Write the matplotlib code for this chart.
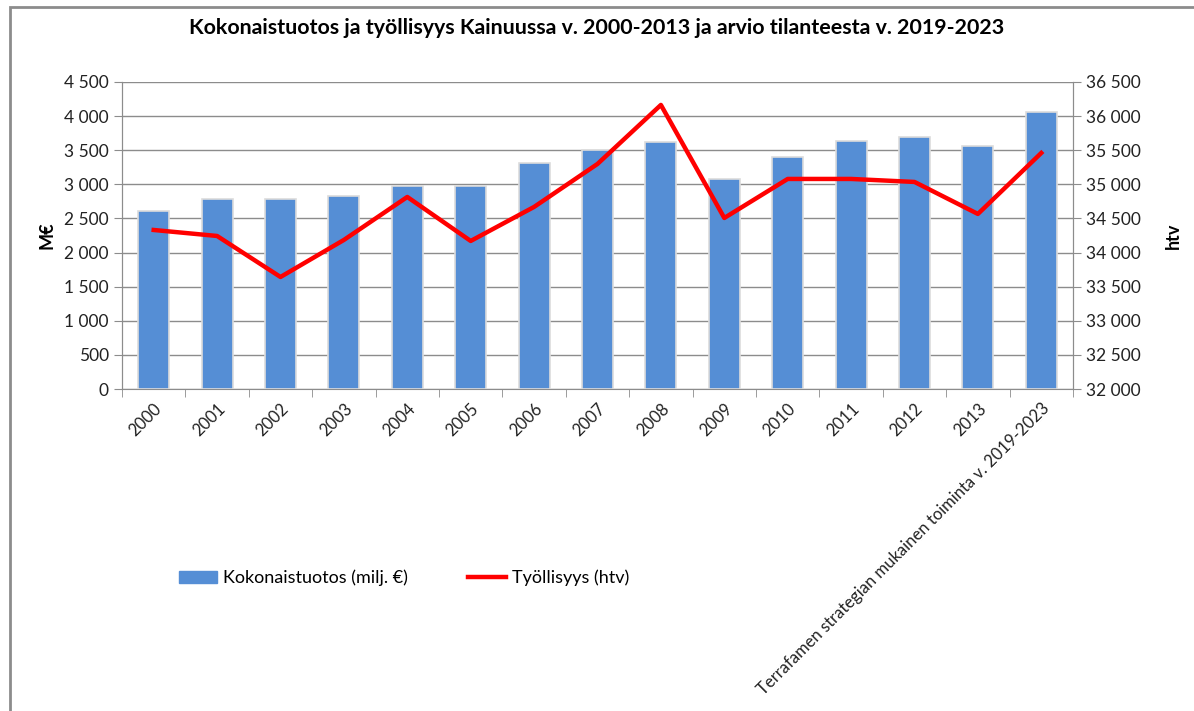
import numpy as np
import matplotlib.pyplot as plt
from matplotlib.lines import Line2D
from matplotlib.patches import Patch, Rectangle

plt.rcParams['font.family'] = ['Lato', 'DejaVu Sans']

categories = ['2000', '2001', '2002', '2003', '2004', '2005', '2006', '2007',
              '2008', '2009', '2010', '2011', '2012', '2013',
              'Terrafamen strategian mukainen toiminta v. 2019-2023']
tuotos = [2610, 2786, 2786, 2830, 2977, 2977, 3314, 3504,
          3622, 3079, 3402, 3636, 3695, 3563, 4062]
tyollisyys = [34331, 34243, 33642, 34185, 34815, 34170, 34669, 35299,
              36164, 34507, 35079, 35079, 35035, 34566, 35460]
left_ticks = [0, 500, 1000, 1500, 2000, 2500, 3000, 3500, 4000, 4500]
right_ticks = [32000, 32500, 33000, 33500, 34000, 34500, 35000, 35500, 36000, 36500]


def fmt(v):
    return f'{v:,}'.replace(',', ' ')


fig = plt.figure(figsize=(11.94, 7.11), dpi=100)
fig.patches.append(Rectangle((10 / 1194, -0.01), 1.2, 1 - 7 / 711 + 0.01,
                             transform=fig.transFigure, fill=False,
                             edgecolor='#8c8c8c', linewidth=2))
ax = fig.add_axes([122 / 1194, 1 - 389 / 711, (1073 - 122) / 1194, (389 - 82) / 711])
ax2 = ax.twinx()

x = np.arange(len(categories))
ax.bar(x, tuotos, width=0.49, color='#558ed5', edgecolor='#dcdcdc', linewidth=1.2, zorder=3)
ax.set_xlim(-0.5, len(categories) - 0.5)
ax.set_ylim(0, 4500)
ax.set_yticks(left_ticks)
ax.set_yticklabels([fmt(v) for v in left_ticks], fontsize=12.5, color='#222222')
ax.grid(axis='y', color='#8c8c8c', linewidth=1, zorder=0)
ax.set_axisbelow(True)

ax.set_xticks(x)
ax.set_xticklabels(categories, rotation=45, ha='right', rotation_mode='anchor',
                   fontsize=12, color='#222222')
ax.set_xticks(np.arange(-0.5, len(categories), 1), minor=True)
ax.tick_params(axis='x', which='major', length=0, pad=8)
ax.tick_params(axis='x', which='minor', length=6, color='#8c8c8c', direction='out')
ax.tick_params(axis='y', length=6, color='#8c8c8c', direction='out')

ax2.plot(x, tyollisyys, color='#ff0000', linewidth=3.2, zorder=4)
ax2.set_ylim(32000, 36500)
ax2.set_yticks(right_ticks)
ax2.set_yticklabels([fmt(v) for v in right_ticks], fontsize=12.5, color='#222222')
ax2.tick_params(axis='y', length=6, color='#8c8c8c', direction='out')

for a in (ax, ax2):
    a.spines['top'].set_visible(False)
    for s in ('left', 'right', 'bottom'):
        a.spines[s].set_color('#8c8c8c')
ax2.spines['bottom'].set_visible(False)

ax.set_ylabel('M€', fontsize=13, fontweight='bold', labelpad=6)
ax2.set_ylabel('htv', fontsize=13, fontweight='bold', labelpad=17, rotation=90)

fig.text(0.5, 1 - 28 / 711, 'Kokonaistuotos ja työllisyys Kainuussa v. 2000-2013 ja arvio tilanteesta v. 2019-2023',
         ha='center', va='center', fontsize=15.4, fontweight='bold')

handles = [Patch(color='#558ed5'), Line2D([0], [0], color='#ff0000', linewidth=3.2)]
fig.legend(handles, ['Kokonaistuotos (milj. €)', 'Työllisyys (htv)'],
           loc='center left', bbox_to_anchor=(163 / 1194, 1 - 578 / 711), ncol=2,
           frameon=False, fontsize=13, handlelength=2.1, handletextpad=0.35,
           columnspacing=3.3)

fig.savefig('out.png', dpi=100)
